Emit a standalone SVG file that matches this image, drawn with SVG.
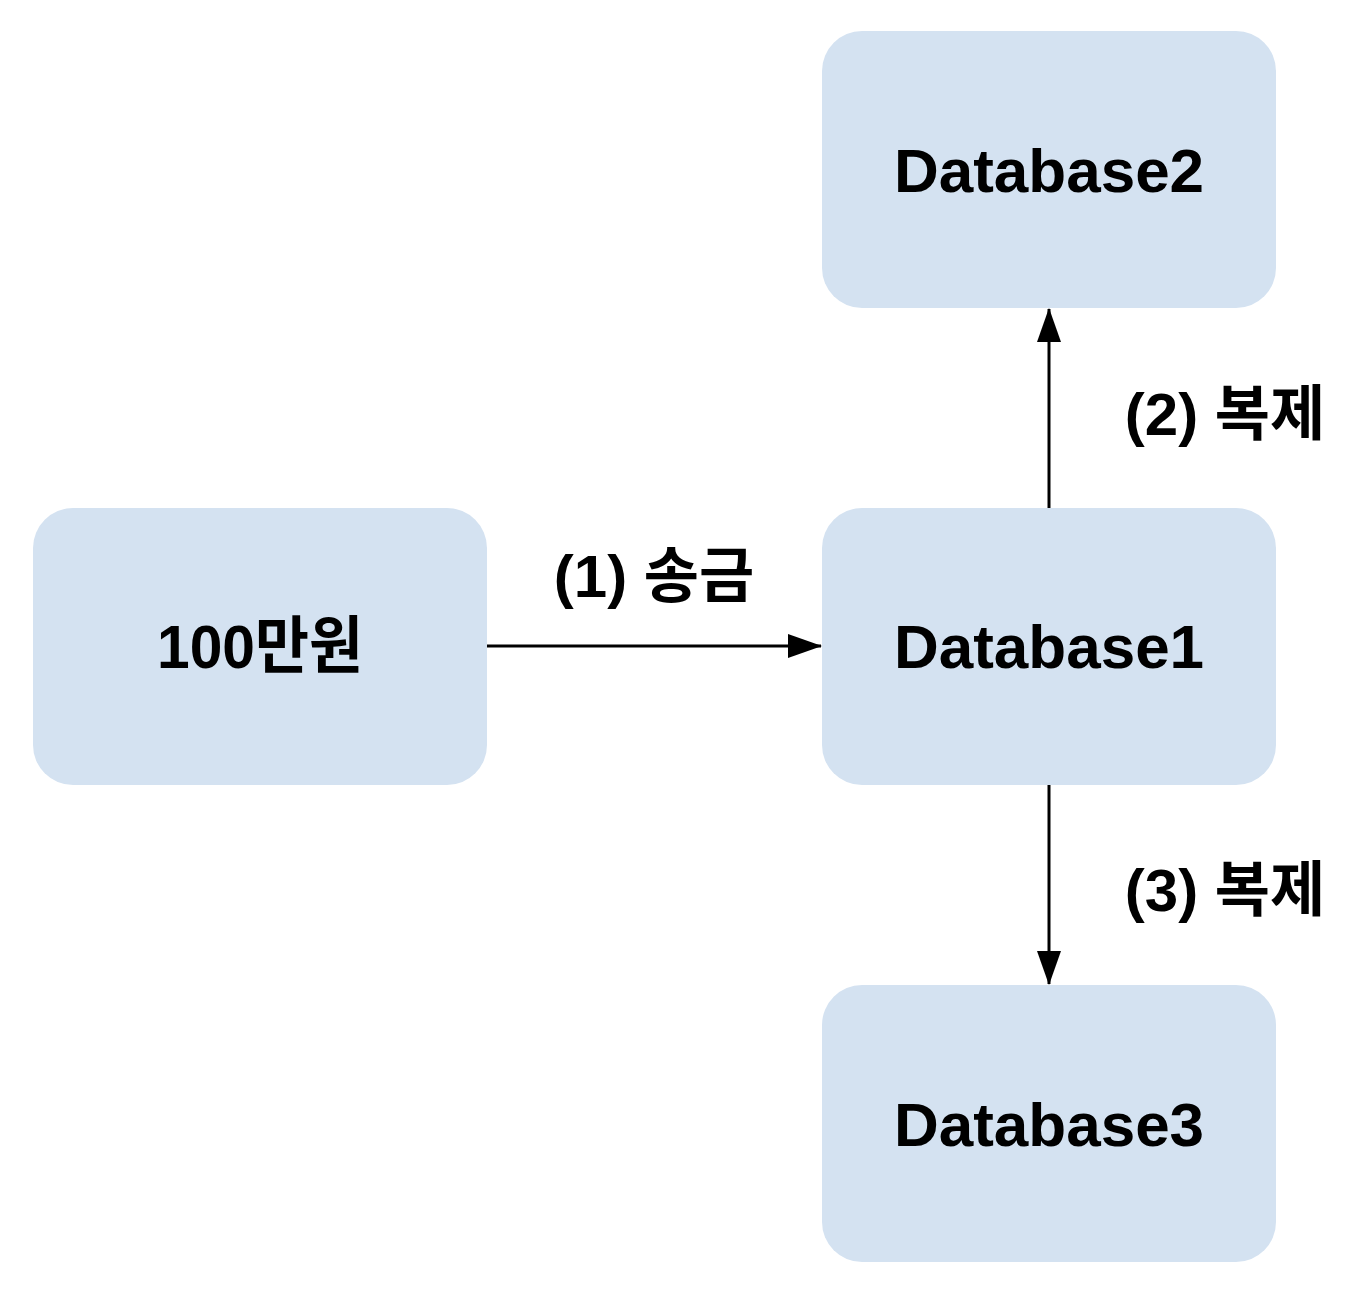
<svg xmlns="http://www.w3.org/2000/svg" width="1362" height="1290" viewBox="0 0 1362 1290">
<style>
.box{fill:#d4e2f1;}
.t{font-family:"Liberation Sans","Noto Sans CJK KR",Arial,sans-serif;font-weight:bold;fill:#000;text-anchor:middle;}
.n{font-size:62px;}
.l{font-size:60px;}
.c{stroke:#000;stroke-width:3;fill:none;}
</style>
<defs>
<marker id="ah" markerUnits="userSpaceOnUse" markerWidth="34" markerHeight="24" refX="33" refY="12" orient="auto">
<path d="M0,0 L34,12 L0,24 Z" fill="#000"/>
</marker>
</defs>
<rect width="1362" height="1290" fill="#fff"/>
<g id="connectors">
<line class="c" x1="487" y1="646" x2="821" y2="646" marker-end="url(#ah)"/>
<line class="c" x1="1049" y1="508" x2="1049" y2="309" marker-end="url(#ah)"/>
<line class="c" x1="1049" y1="785" x2="1049" y2="984" marker-end="url(#ah)"/>
<text class="t l" x="654" y="597">(1) 송금</text>
<text class="t l" x="1225" y="435">(2) 복제</text>
<text class="t l" x="1225" y="911">(3) 복제</text>
</g>
<g id="node-money">
<rect class="box" x="33" y="508" width="454" height="277" rx="40"/>
<text class="t n" x="260" y="668" textLength="206" lengthAdjust="spacingAndGlyphs">100만원</text>
</g>
<g id="node-db1">
<rect class="box" x="822" y="508" width="454" height="277" rx="40"/>
<text class="t n" x="1049" y="668">Database1</text>
</g>
<g id="node-db2">
<rect class="box" x="822" y="31" width="454" height="277" rx="40"/>
<text class="t n" x="1049" y="192">Database2</text>
</g>
<g id="node-db3">
<rect class="box" x="822" y="985" width="454" height="277" rx="40"/>
<text class="t n" x="1049" y="1146">Database3</text>
</g>
</svg>
